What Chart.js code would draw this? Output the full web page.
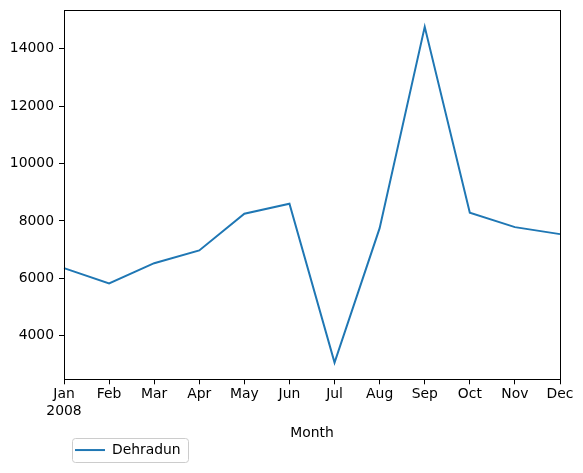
<!DOCTYPE html>
<html>
<head>
<meta charset="utf-8" />
<script src="https://cdn.jsdelivr.net/npm/chart.js@4.4.1/dist/chart.umd.min.js"></script>
<style>
  html, body { margin: 0; padding: 0; background: #ffffff; }
  #wrap { width: 583px; height: 473px; }
</style>
</head>
<body>
<div id="wrap"><canvas id="chart" width="583" height="473"></canvas></div>
<script>
const months = ["Jan", "Feb", "Mar", "Apr", "May", "Jun", "Jul", "Aug", "Sep", "Oct", "Nov", "Dec"];
const yearLabel = "2008";
const dehradun = [6355, 5822, 6529, 6972, 8250, 8599, 3070, 7749, 14760, 8285, 7784, 7540];
const yTicks = [4000, 6000, 8000, 10000, 12000, 14000];
const yMin = 2485;
const yMax = 15345;

const FONT = { family: "'DejaVu Sans', sans-serif", size: 13.9 };

// full black frame round the plot, like the matplotlib spines
const frame = {
  id: "frame",
  afterDatasetsDraw(chart) {
    const { ctx, chartArea } = chart;
    ctx.save();
    ctx.strokeStyle = "#000000";
    ctx.lineWidth = 1;
    ctx.strokeRect(
      Math.round(chartArea.left) + 0.5,
      Math.round(chartArea.top) + 0.5,
      Math.round(chartArea.right - chartArea.left),
      Math.round(chartArea.bottom - chartArea.top)
    );
    ctx.restore();
  },
};

// rounded grey box behind the legend entry
const legendBox = {
  id: "legendBox",
  beforeDraw(chart) {
    const legend = chart.legend;
    if (!legend || !legend.legendHitBoxes || !legend.legendHitBoxes.length) return;
    const hb = legend.legendHitBoxes[0];
    const x = hb.left - 3.5;
    const y = hb.top - 5;
    const w = hb.width + 10.5;
    const h = hb.height + 10.5;
    const { ctx } = chart;
    ctx.save();
    ctx.fillStyle = "rgba(255,255,255,0.8)";
    ctx.strokeStyle = "#cccccc";
    ctx.lineWidth = 1;
    ctx.beginPath();
    ctx.roundRect(Math.round(x) + 0.5, Math.round(y) + 0.5, Math.round(w), Math.round(h), 3);
    ctx.fill();
    ctx.stroke();
    ctx.restore();
  },
};

const labels = months.map((m, i) => (i === 0 ? [m, yearLabel] : m));

new Chart(document.getElementById("chart"), {
  type: "line",
  data: {
    labels: labels,
    datasets: [
      {
        label: "Dehradun",
        data: dehradun,
        borderColor: "#1f77b4",
        backgroundColor: "#1f77b4",
        borderWidth: 2,
        pointRadius: 0,
        tension: 0,
        fill: false,
      },
    ],
  },
  options: {
    responsive: false,
    animation: false,
    devicePixelRatio: 1,
    layout: {
      padding: { top: 10, right: 23, bottom: 6, left: 0 },
    },
    plugins: {
      legend: {
        position: "bottom",
        align: "start",
        fullSize: false,
        labels: {
          usePointStyle: true,
          pointStyle: "line",
          pointStyleWidth: 30,
          padding: 11,
          color: "#000000",
          font: FONT,
        },
      },
      tooltip: { enabled: false },
    },
    scales: {
      x: {
        type: "category",
        offset: false,
        grid: {
          display: true,
          drawOnChartArea: false,
          drawTicks: true,
          tickLength: 5,
          tickColor: "#000000",
        },
        border: { display: false },
        ticks: {
          color: "#000000",
          font: FONT,
          padding: 2,
          maxRotation: 0,
          autoSkip: false,
        },
        title: {
          display: true,
          text: "Month",
          color: "#000000",
          font: FONT,
          padding: { top: 0, bottom: -9.3 },
        },
        afterFit(scale) {
          scale.height = 52.8;
        },
      },
      y: {
        type: "linear",
        min: yMin,
        max: yMax,
        grid: {
          display: true,
          drawOnChartArea: false,
          drawTicks: true,
          tickLength: 5,
          tickColor: "#000000",
        },
        border: { display: false },
        ticks: {
          color: "#000000",
          font: FONT,
          padding: 5,
          callback: (value) => String(value),
        },
        afterBuildTicks(scale) {
          scale.ticks = yTicks.map((v) => ({ value: v }));
        },
        afterFit(scale) {
          scale.width = 64;
          scale.paddingTop = 0;
          scale.paddingBottom = 0;
        },
      },
    },
  },
  plugins: [frame, legendBox],
});
</script>
</body>
</html>
